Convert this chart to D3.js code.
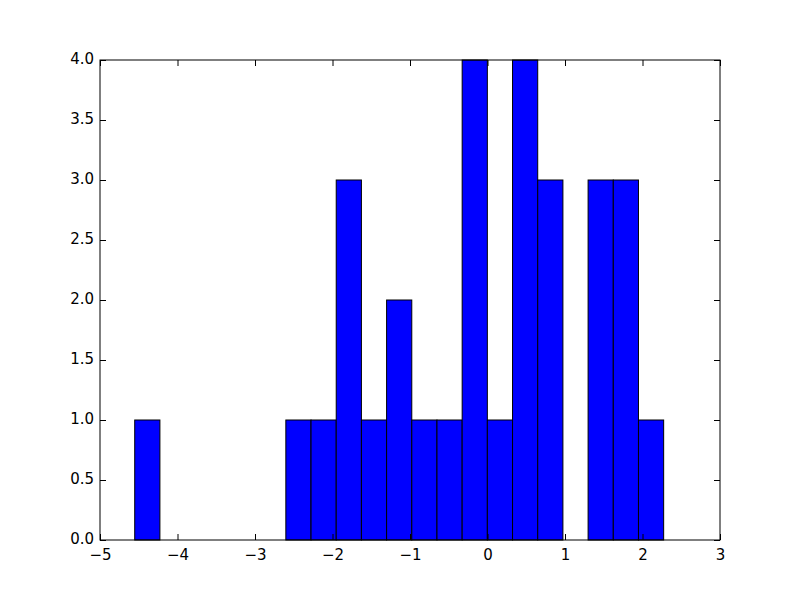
<!DOCTYPE html>
<html>
<head>
<meta charset="utf-8">
<script src="https://cdn.jsdelivr.net/npm/d3@7"></script>
<style>
body { margin: 0; background: #fff; }
svg { display: block; }
text { font-family: "DejaVu Sans", sans-serif; }
</style>
</head>
<body>
<svg id="chart" width="800" height="600"></svg>
<script>
// Histogram bin edges (data units) and counts per bin
const binEdges = [-4.552, -4.227, -3.902, -3.577, -3.252, -2.927, -2.602, -2.277, -1.952, -1.627,
  -1.302, -0.977, -0.652, -0.327, -0.002, 0.323, 0.648, 0.973, 1.298, 1.623, 1.948, 2.273];
const counts = [1, 0, 0, 0, 0, 0, 1, 1, 3, 1, 2, 1, 1, 4, 1, 4, 3, 0, 3, 3, 1];
const xTicks = [-5, -4, -3, -2, -1, 0, 1, 2, 3];
const yTicks = [0.0, 0.5, 1.0, 1.5, 2.0, 2.5, 3.0, 3.5, 4.0];

const margin = {left: 100, top: 60, right: 80, bottom: 60};
const W = 800, H = 600;
const svg = d3.select("#chart");

const x = d3.scaleLinear().domain([-5, 3]).range([margin.left, W - margin.right]);
const y = d3.scaleLinear().domain([0, 4]).range([H - margin.bottom, margin.top]);

const bins = counts.map((c, i) => ({x0: binEdges[i], x1: binEdges[i + 1], c}));

svg.append("g").selectAll("rect").data(bins.filter(d => d.c > 0)).join("rect")
  .attr("x", d => x(d.x0))
  .attr("width", d => x(d.x1) - x(d.x0))
  .attr("y", d => y(d.c))
  .attr("height", d => y(0) - y(d.c))
  .attr("fill", "#0000ff")
  .attr("stroke", "#000")
  .attr("stroke-width", 1);

const tickLen = 6;
const fs = "15px";
const gBottom = svg.append("g").attr("transform", `translate(0,${y(0)})`)
  .call(d3.axisBottom(x).tickValues(xTicks).tickSize(-tickLen).tickPadding(9).tickFormat(d3.format("d")));
const gTop = svg.append("g").attr("transform", `translate(0,${y(4)})`)
  .call(d3.axisTop(x).tickValues(xTicks).tickSize(-tickLen).tickFormat(""));
const gLeft = svg.append("g").attr("transform", `translate(${x(-5)},0)`)
  .call(d3.axisLeft(y).tickValues(yTicks).tickSize(-tickLen).tickPadding(6).tickFormat(d3.format(".1f")));
const gRight = svg.append("g").attr("transform", `translate(${x(3)},0)`)
  .call(d3.axisRight(y).tickValues(yTicks).tickSize(-tickLen).tickFormat(""));

gLeft.selectAll("text").attr("dy", "0.2em");

[gBottom, gTop, gLeft, gRight].forEach(g => {
  g.select(".domain").remove();
  g.selectAll("line").attr("stroke", "#000").attr("stroke-width", 1);
  g.selectAll("text").attr("fill", "#000").style("font-size", fs).style("font-family", "'DejaVu Sans', sans-serif");
});

svg.append("rect")
  .attr("x", x(-5)).attr("y", y(4))
  .attr("width", x(3) - x(-5)).attr("height", y(0) - y(4))
  .attr("fill", "none").attr("stroke", "#000").attr("stroke-width", 1);
</script>
</body>
</html>
